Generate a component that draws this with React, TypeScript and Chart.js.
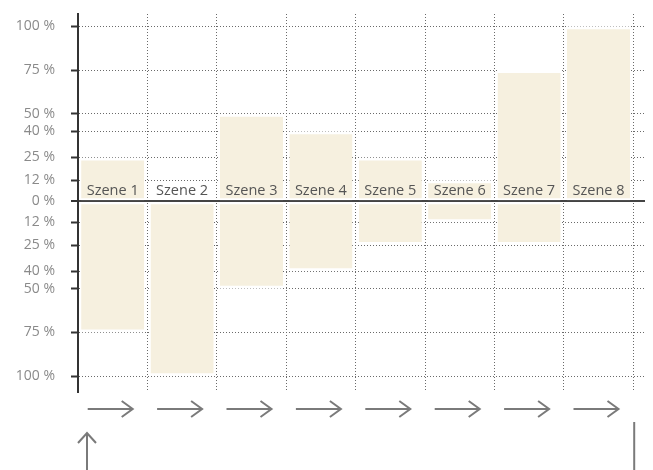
import { useEffect, useRef } from "react";
import { Chart, registerables } from "chart.js";

Chart.register(...registerables);

const scenes = ["Szene 1", "Szene 2", "Szene 3", "Szene 4", "Szene 5", "Szene 6", "Szene 7", "Szene 8"];
const positiveShares: (number | null)[] = [25, null, 50, 40, 25, 12, 75, 100];
const negativeShares: (number | null)[] = [-75, -100, -50, -40, -25, -12, -25, null];
const tickValues = [-100, -75, -50, -40, -25, -12, 0, 12, 25, 40, 50, 75, 100];

const BAR = "#f6f0df";
const FONT = '"Open Sans", "Noto Sans", sans-serif';

const decorPlugin = {
  id: "decor",
  afterDraw(chart: any) {
    const { ctx, scales, chartArea } = chart;
    const x = scales.x;
    const y = scales.y;
    const y0 = y.getPixelForValue(0);
    ctx.save();
    ctx.font = `14.5px ${FONT}`;
    ctx.fillStyle = "#555";
    ctx.textAlign = "center";
    ctx.textBaseline = "alphabetic";
    ctx.strokeStyle = "#7a7a7a";
    ctx.lineWidth = 2;
    ctx.lineCap = "butt";
    const ay = chartArea.bottom + 17;
    scenes.forEach((s, i) => {
      const cx = x.getPixelForValue(i + 0.5);
      ctx.fillText(s, cx, y0 - 6);
      const ax = cx - 2;
      ctx.beginPath();
      ctx.moveTo(ax - 23, ay);
      ctx.lineTo(ax + 22, ay);
      ctx.stroke();
      ctx.beginPath();
      ctx.moveTo(ax + 11, ay - 8);
      ctx.lineTo(ax + 22, ay);
      ctx.lineTo(ax + 11, ay + 8);
      ctx.stroke();
    });
    // up arrow at bottom left
    const ux = x.getPixelForValue(0) + 9;
    const ut = chartArea.bottom + 41;
    ctx.beginPath();
    ctx.moveTo(ux, ut);
    ctx.lineTo(ux, chart.height);
    ctx.stroke();
    ctx.beginPath();
    ctx.moveTo(ux - 9, ut + 10);
    ctx.lineTo(ux, ut);
    ctx.lineTo(ux + 9, ut + 10);
    ctx.stroke();
    // vertical line at right
    const rx = x.getPixelForValue(scenes.length) + 1;
    ctx.beginPath();
    ctx.moveTo(rx, chartArea.bottom + 30);
    ctx.lineTo(rx, chart.height);
    ctx.stroke();
    ctx.restore();
  },
};

export default function App() {
  const ref = useRef<HTMLCanvasElement | null>(null);
  useEffect(() => {
    document.body.style.margin = "0";
    if (!ref.current) return;
    const chart = new Chart(ref.current, {
      type: "bar",
      data: {
        datasets: [
          {
            label: "positiv",
            data: positiveShares.map((v, i) => ({ x: i + 0.5, y: v })) as any,
            backgroundColor: BAR,
            borderColor: "#ffffff",
            borderWidth: { top: 3, bottom: 2, left: 0, right: 0 },
            borderSkipped: false,
            stack: "s",
            barPercentage: 0.91,
            categoryPercentage: 1,
          },
          {
            label: "negativ",
            data: negativeShares.map((v, i) => ({ x: i + 0.5, y: v })) as any,
            backgroundColor: BAR,
            borderColor: "#ffffff",
            borderWidth: { top: 2, bottom: 3, left: 0, right: 0 },
            borderSkipped: false,
            stack: "s",
            barPercentage: 0.91,
            categoryPercentage: 1,
          },
        ],
      },
      options: {
        animation: false,
        responsive: true,
        maintainAspectRatio: false,
        layout: { padding: { top: 14, right: 8, left: 0, bottom: 0 } },
        plugins: {
          legend: { display: false },
          tooltip: { enabled: false },
        },
        scales: {
          x: {
            type: "linear",
            min: 0,
            max: 8.17,
            offset: false,
            z: 1,
            ticks: { display: false, stepSize: 1, includeBounds: false },
            grid: { color: "#6a6a6a", lineWidth: 1, drawTicks: false, offset: false },
            border: { display: false, dash: [1, 2] },
            afterFit: (scale: any) => {
              scale.height = 78;
            },
          } as any,
          y: {
            type: "linear",
            min: -109,
            max: 107,
            stacked: true,
            z: 1,
            afterBuildTicks: (scale: any) => {
              scale.ticks = tickValues.map((v) => ({ value: v }));
            },
            afterFit: (scale: any) => {
              scale.width = 78;
              scale.paddingTop = 0;
              scale.paddingBottom = 0;
            },
            ticks: {
              padding: 16,
              color: "#8a8a8a",
              font: { family: FONT, size: 14 },
              callback: (v: any) => `${Math.abs(Number(v))} %`,
            },
            grid: {
              color: (c: any) => (c.tick && c.tick.value === 0 ? "#444" : "#6a6a6a"),
              lineWidth: (c: any) => (c.tick && c.tick.value === 0 ? 2 : 1),
              tickColor: "#333",
              tickWidth: 2,
              tickLength: 7,
              tickBorderDash: [],
            },
            border: {
              display: true,
              color: "#333",
              width: 2,
              dash: (c: any) => (c.tick && c.tick.value === 0 ? [] : [1, 2]),
            },
          } as any,
        },
      },
      plugins: [decorPlugin],
    });
    return () => chart.destroy();
  }, []);
  return (
    <div style={{ width: 653, height: 470, position: "relative" }}>
      <canvas ref={ref} />
    </div>
  );
}
